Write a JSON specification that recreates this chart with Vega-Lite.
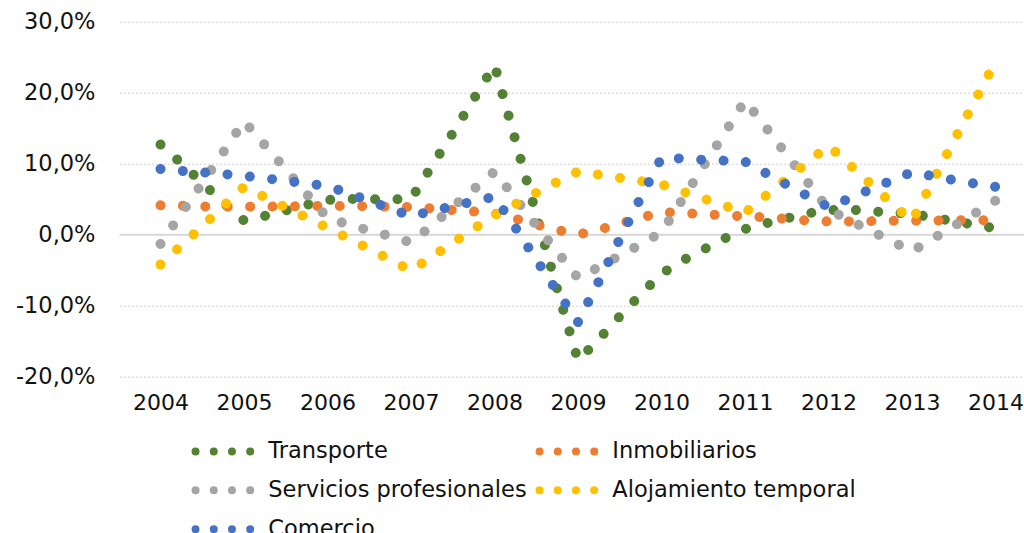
{
  "$schema": "https://vega.github.io/schema/vega-lite/v6.json",
  "width": 904.5,
  "height": 355,
  "autosize": {"type": "none"},
  "padding": {"left": 119.5, "top": 21.7, "right": 0, "bottom": 156.3},
  "background": "#ffffff",
  "config": {
    "view": {"stroke": null},
    "font": "DejaVu Sans",
    "locale": {"number": {"decimal": ",", "thousands": ".", "grouping": [3], "currency": ["", " €"], "minus": "-"}}
  },
  "datasets": {
    "series": [
      {"periodo":2004,"sector":"Transporte","tasa":12.7},{"periodo":2004.25,"sector":"Transporte","tasa":10.05},{"periodo":2004.5,"sector":"Transporte","tasa":7.3},{"periodo":2004.75,"sector":"Transporte","tasa":4.55},
      {"periodo":2005,"sector":"Transporte","tasa":2.0},{"periodo":2005.25,"sector":"Transporte","tasa":2.65},{"periodo":2005.5,"sector":"Transporte","tasa":3.42},{"periodo":2005.75,"sector":"Transporte","tasa":4.2},
      {"periodo":2006,"sector":"Transporte","tasa":4.9},{"periodo":2006.25,"sector":"Transporte","tasa":5.03},{"periodo":2006.5,"sector":"Transporte","tasa":5.0},{"periodo":2006.75,"sector":"Transporte","tasa":5.0},
      {"periodo":2007,"sector":"Transporte","tasa":5.0},{"periodo":2007.25,"sector":"Transporte","tasa":9.7},{"periodo":2007.5,"sector":"Transporte","tasa":14.3},{"periodo":2007.75,"sector":"Transporte","tasa":19.1},
      {"periodo":2008,"sector":"Transporte","tasa":23.9},{"periodo":2008.25,"sector":"Transporte","tasa":13.3},{"periodo":2008.5,"sector":"Transporte","tasa":2.85},{"periodo":2008.75,"sector":"Transporte","tasa":-7.65},
      {"periodo":2009,"sector":"Transporte","tasa":-17.7},{"periodo":2009.25,"sector":"Transporte","tasa":-14.7},{"periodo":2009.5,"sector":"Transporte","tasa":-11.5},{"periodo":2009.75,"sector":"Transporte","tasa":-8.4},
      {"periodo":2010,"sector":"Transporte","tasa":-5.5},{"periodo":2010.25,"sector":"Transporte","tasa":-3.65},{"periodo":2010.5,"sector":"Transporte","tasa":-2.1},{"periodo":2010.75,"sector":"Transporte","tasa":-0.55},
      {"periodo":2011,"sector":"Transporte","tasa":0.8},{"periodo":2011.25,"sector":"Transporte","tasa":1.6},{"periodo":2011.5,"sector":"Transporte","tasa":2.3},{"periodo":2011.75,"sector":"Transporte","tasa":3.0},
      {"periodo":2012,"sector":"Transporte","tasa":3.45},{"periodo":2012.25,"sector":"Transporte","tasa":3.55},{"periodo":2012.5,"sector":"Transporte","tasa":3.3},{"periodo":2012.75,"sector":"Transporte","tasa":3.12},
      {"periodo":2013,"sector":"Transporte","tasa":2.95},{"periodo":2013.25,"sector":"Transporte","tasa":2.4},{"periodo":2013.5,"sector":"Transporte","tasa":1.9},{"periodo":2013.75,"sector":"Transporte","tasa":1.4},
      {"periodo":2014,"sector":"Transporte","tasa":0.9},

      {"periodo":2004,"sector":"Inmobiliarios","tasa":4.14},{"periodo":2004.25,"sector":"Inmobiliarios","tasa":4.1},{"periodo":2004.5,"sector":"Inmobiliarios","tasa":3.97},{"periodo":2004.75,"sector":"Inmobiliarios","tasa":3.95},
      {"periodo":2005,"sector":"Inmobiliarios","tasa":3.95},{"periodo":2005.25,"sector":"Inmobiliarios","tasa":3.95},{"periodo":2005.5,"sector":"Inmobiliarios","tasa":3.97},{"periodo":2005.75,"sector":"Inmobiliarios","tasa":4.03},
      {"periodo":2006,"sector":"Inmobiliarios","tasa":4.04},{"periodo":2006.25,"sector":"Inmobiliarios","tasa":4.04},{"periodo":2006.5,"sector":"Inmobiliarios","tasa":4.0},{"periodo":2006.75,"sector":"Inmobiliarios","tasa":3.95},
      {"periodo":2007,"sector":"Inmobiliarios","tasa":3.9},{"periodo":2007.25,"sector":"Inmobiliarios","tasa":3.7},{"periodo":2007.5,"sector":"Inmobiliarios","tasa":3.47},{"periodo":2007.75,"sector":"Inmobiliarios","tasa":3.27},
      {"periodo":2008,"sector":"Inmobiliarios","tasa":3.0},{"periodo":2008.25,"sector":"Inmobiliarios","tasa":2.25},{"periodo":2008.5,"sector":"Inmobiliarios","tasa":1.42},{"periodo":2008.75,"sector":"Inmobiliarios","tasa":0.68},
      {"periodo":2009,"sector":"Inmobiliarios","tasa":0.0},{"periodo":2009.25,"sector":"Inmobiliarios","tasa":0.7},{"periodo":2009.5,"sector":"Inmobiliarios","tasa":1.55},{"periodo":2009.75,"sector":"Inmobiliarios","tasa":2.37},
      {"periodo":2010,"sector":"Inmobiliarios","tasa":3.2},{"periodo":2010.25,"sector":"Inmobiliarios","tasa":3.06},{"periodo":2010.5,"sector":"Inmobiliarios","tasa":2.88},{"periodo":2010.75,"sector":"Inmobiliarios","tasa":2.73},
      {"periodo":2011,"sector":"Inmobiliarios","tasa":2.6},{"periodo":2011.25,"sector":"Inmobiliarios","tasa":2.45},{"periodo":2011.5,"sector":"Inmobiliarios","tasa":2.22},{"periodo":2011.75,"sector":"Inmobiliarios","tasa":2.0},
      {"periodo":2012,"sector":"Inmobiliarios","tasa":1.87},{"periodo":2012.25,"sector":"Inmobiliarios","tasa":1.86},{"periodo":2012.5,"sector":"Inmobiliarios","tasa":1.91},{"periodo":2012.75,"sector":"Inmobiliarios","tasa":1.95},
      {"periodo":2013,"sector":"Inmobiliarios","tasa":1.97},{"periodo":2013.25,"sector":"Inmobiliarios","tasa":1.98},{"periodo":2013.5,"sector":"Inmobiliarios","tasa":2.02},{"periodo":2013.75,"sector":"Inmobiliarios","tasa":2.03},
      {"periodo":2014,"sector":"Inmobiliarios","tasa":2.05},

      {"periodo":2004,"sector":"Servicios profesionales","tasa":-1.3},{"periodo":2004.25,"sector":"Servicios profesionales","tasa":3.0},{"periodo":2004.5,"sector":"Servicios profesionales","tasa":7.25},{"periodo":2004.75,"sector":"Servicios profesionales","tasa":11.6},
      {"periodo":2005,"sector":"Servicios profesionales","tasa":16.0},{"periodo":2005.25,"sector":"Servicios profesionales","tasa":12.6},{"periodo":2005.5,"sector":"Servicios profesionales","tasa":9.2},{"periodo":2005.75,"sector":"Servicios profesionales","tasa":5.75},
      {"periodo":2006,"sector":"Servicios profesionales","tasa":2.35},{"periodo":2006.25,"sector":"Servicios profesionales","tasa":1.45},{"periodo":2006.5,"sector":"Servicios profesionales","tasa":0.6},{"periodo":2006.75,"sector":"Servicios profesionales","tasa":-0.2},
      {"periodo":2007,"sector":"Servicios profesionales","tasa":-1.1},{"periodo":2007.25,"sector":"Servicios profesionales","tasa":1.3},{"periodo":2007.5,"sector":"Servicios profesionales","tasa":3.9},{"periodo":2007.75,"sector":"Servicios profesionales","tasa":6.4},
      {"periodo":2008,"sector":"Servicios profesionales","tasa":8.9},{"periodo":2008.25,"sector":"Servicios profesionales","tasa":5.1},{"periodo":2008.5,"sector":"Servicios profesionales","tasa":1.3},{"periodo":2008.75,"sector":"Servicios profesionales","tasa":-2.4},
      {"periodo":2009,"sector":"Servicios profesionales","tasa":-6.1},{"periodo":2009.25,"sector":"Servicios profesionales","tasa":-4.55},{"periodo":2009.5,"sector":"Servicios profesionales","tasa":-2.95},{"periodo":2009.75,"sector":"Servicios profesionales","tasa":-1.35},
      {"periodo":2010,"sector":"Servicios profesionales","tasa":0.33},{"periodo":2010.25,"sector":"Servicios profesionales","tasa":4.97},{"periodo":2010.5,"sector":"Servicios profesionales","tasa":9.6},{"periodo":2010.75,"sector":"Servicios profesionales","tasa":14.2},
      {"periodo":2011,"sector":"Servicios profesionales","tasa":18.9},{"periodo":2011.25,"sector":"Servicios profesionales","tasa":15.1},{"periodo":2011.5,"sector":"Servicios profesionales","tasa":11.25},{"periodo":2011.75,"sector":"Servicios profesionales","tasa":7.4},
      {"periodo":2012,"sector":"Servicios profesionales","tasa":3.55},{"periodo":2012.25,"sector":"Servicios profesionales","tasa":2.05},{"periodo":2012.5,"sector":"Servicios profesionales","tasa":0.57},{"periodo":2012.75,"sector":"Servicios profesionales","tasa":-0.87},
      {"periodo":2013,"sector":"Servicios profesionales","tasa":-2.35},{"periodo":2013.25,"sector":"Servicios profesionales","tasa":-0.55},{"periodo":2013.5,"sector":"Servicios profesionales","tasa":1.2},{"periodo":2013.75,"sector":"Servicios profesionales","tasa":3.0},
      {"periodo":2014,"sector":"Servicios profesionales","tasa":4.8},

      {"periodo":2004,"sector":"Alojamiento temporal","tasa":-4.2},{"periodo":2004.25,"sector":"Alojamiento temporal","tasa":-1.5},{"periodo":2004.5,"sector":"Alojamiento temporal","tasa":1.15},{"periodo":2004.75,"sector":"Alojamiento temporal","tasa":4.0},
      {"periodo":2005,"sector":"Alojamiento temporal","tasa":6.75},{"periodo":2005.25,"sector":"Alojamiento temporal","tasa":5.3},{"periodo":2005.5,"sector":"Alojamiento temporal","tasa":3.85},{"periodo":2005.75,"sector":"Alojamiento temporal","tasa":2.42},
      {"periodo":2006,"sector":"Alojamiento temporal","tasa":0.98},{"periodo":2006.25,"sector":"Alojamiento temporal","tasa":-0.52},{"periodo":2006.5,"sector":"Alojamiento temporal","tasa":-2.0},{"periodo":2006.75,"sector":"Alojamiento temporal","tasa":-3.5},
      {"periodo":2007,"sector":"Alojamiento temporal","tasa":-5.05},{"periodo":2007.25,"sector":"Alojamiento temporal","tasa":-3.1},{"periodo":2007.5,"sector":"Alojamiento temporal","tasa":-1.15},{"periodo":2007.75,"sector":"Alojamiento temporal","tasa":0.83},
      {"periodo":2008,"sector":"Alojamiento temporal","tasa":2.75},{"periodo":2008.25,"sector":"Alojamiento temporal","tasa":4.3},{"periodo":2008.5,"sector":"Alojamiento temporal","tasa":5.9},{"periodo":2008.75,"sector":"Alojamiento temporal","tasa":7.45},
      {"periodo":2009,"sector":"Alojamiento temporal","tasa":8.9},{"periodo":2009.25,"sector":"Alojamiento temporal","tasa":8.45},{"periodo":2009.5,"sector":"Alojamiento temporal","tasa":8.0},{"periodo":2009.75,"sector":"Alojamiento temporal","tasa":7.55},
      {"periodo":2010,"sector":"Alojamiento temporal","tasa":7.1},{"periodo":2010.25,"sector":"Alojamiento temporal","tasa":6.1},{"periodo":2010.5,"sector":"Alojamiento temporal","tasa":5.1},{"periodo":2010.75,"sector":"Alojamiento temporal","tasa":4.1},
      {"periodo":2011,"sector":"Alojamiento temporal","tasa":3.1},{"periodo":2011.25,"sector":"Alojamiento temporal","tasa":5.5},{"periodo":2011.5,"sector":"Alojamiento temporal","tasa":7.85},{"periodo":2011.75,"sector":"Alojamiento temporal","tasa":10.2},
      {"periodo":2012,"sector":"Alojamiento temporal","tasa":12.55},{"periodo":2012.25,"sector":"Alojamiento temporal","tasa":9.87},{"periodo":2012.5,"sector":"Alojamiento temporal","tasa":7.2},{"periodo":2012.75,"sector":"Alojamiento temporal","tasa":4.5},
      {"periodo":2013,"sector":"Alojamiento temporal","tasa":1.9},{"periodo":2013.25,"sector":"Alojamiento temporal","tasa":7.6},{"periodo":2013.5,"sector":"Alojamiento temporal","tasa":13.2},{"periodo":2013.75,"sector":"Alojamiento temporal","tasa":18.8},
      {"periodo":2014,"sector":"Alojamiento temporal","tasa":24.4},

      {"periodo":2004,"sector":"Comercio","tasa":9.25},{"periodo":2004.25,"sector":"Comercio","tasa":9.0},{"periodo":2004.5,"sector":"Comercio","tasa":8.8},{"periodo":2004.75,"sector":"Comercio","tasa":8.55},
      {"periodo":2005,"sector":"Comercio","tasa":8.28},{"periodo":2005.25,"sector":"Comercio","tasa":7.95},{"periodo":2005.5,"sector":"Comercio","tasa":7.58},{"periodo":2005.75,"sector":"Comercio","tasa":7.22},
      {"periodo":2006,"sector":"Comercio","tasa":6.85},{"periodo":2006.25,"sector":"Comercio","tasa":5.83},{"periodo":2006.5,"sector":"Comercio","tasa":4.76},{"periodo":2006.75,"sector":"Comercio","tasa":3.72},
      {"periodo":2007,"sector":"Comercio","tasa":2.6},{"periodo":2007.25,"sector":"Comercio","tasa":3.33},{"periodo":2007.5,"sector":"Comercio","tasa":4.02},{"periodo":2007.75,"sector":"Comercio","tasa":4.69},
      {"periodo":2008,"sector":"Comercio","tasa":5.35},{"periodo":2008.25,"sector":"Comercio","tasa":1.0},{"periodo":2008.5,"sector":"Comercio","tasa":-3.5},{"periodo":2008.75,"sector":"Comercio","tasa":-8.0},
      {"periodo":2009,"sector":"Comercio","tasa":-12.3},{"periodo":2009.25,"sector":"Comercio","tasa":-6.55},{"periodo":2009.5,"sector":"Comercio","tasa":-0.6},{"periodo":2009.75,"sector":"Comercio","tasa":5.2},
      {"periodo":2010,"sector":"Comercio","tasa":10.85},{"periodo":2010.25,"sector":"Comercio","tasa":10.72},{"periodo":2010.5,"sector":"Comercio","tasa":10.55},{"periodo":2010.75,"sector":"Comercio","tasa":10.43},
      {"periodo":2011,"sector":"Comercio","tasa":10.3},{"periodo":2011.25,"sector":"Comercio","tasa":8.67},{"periodo":2011.5,"sector":"Comercio","tasa":7.05},{"periodo":2011.75,"sector":"Comercio","tasa":5.45},
      {"periodo":2012,"sector":"Comercio","tasa":3.9},{"periodo":2012.25,"sector":"Comercio","tasa":5.1},{"periodo":2012.5,"sector":"Comercio","tasa":6.38},{"periodo":2012.75,"sector":"Comercio","tasa":7.6},
      {"periodo":2013,"sector":"Comercio","tasa":8.8},{"periodo":2013.25,"sector":"Comercio","tasa":8.25},{"periodo":2013.5,"sector":"Comercio","tasa":7.7},{"periodo":2013.75,"sector":"Comercio","tasa":7.2},
      {"periodo":2014,"sector":"Comercio","tasa":6.75}
    ]
  },
  "layer": [
    {
      "data": {"values": [{"cero": 0}]},
      "mark": {"type": "rule", "color": "#d9d9d9", "strokeWidth": 2},
      "encoding": {
        "y": {"field": "cero", "type": "quantitative", "scale": {"domain": [-20, 30], "nice": false, "zero": false}}
      }
    },
    {
      "data": {"name": "series"},
      "mark": {"type": "line", "strokeWidth": 10, "strokeCap": "round", "strokeJoin": "round", "strokeDash": [0.01, 22.4], "interpolate": "linear"},
      "encoding": {
        "x": {
          "field": "periodo", "type": "quantitative",
          "scale": {"domain": [2003.509, 2014.341], "nice": false, "zero": false},
          "axis": {
            "title": null, "values": [2004,2005,2006,2007,2008,2009,2010,2011,2012,2013,2014],
            "format": "d", "grid": false, "domain": false, "ticks": false, "tickSize": 0,
            "labelPadding": 16, "labelFontSize": 22, "labelFont": "DejaVu Sans", "labelColor": "#111111",
            "labelFlush": false, "labelOverlap": false
          }
        },
        "y": {
          "field": "tasa", "type": "quantitative",
          "scale": {"domain": [-20, 30], "nice": false, "zero": false},
          "axis": {
            "title": null, "values": [-20,-15,-10,-5,0,5,10,15,20,25,30],
            "format": ".1f", "labelExpr": "datum.label + '%'",
            "grid": true, "gridColor": "#d0d0d0", "gridDash": [2, 2], "gridWidth": 1,
            "domain": false, "ticks": false, "tickSize": 0,
            "labelPadding": 24.5, "labelFontSize": 22.5, "labelFont": "DejaVu Sans", "labelColor": "#111111",
            "labelOverlap": false
          }
        },
        "color": {
          "field": "sector", "type": "nominal",
          "scale": {
            "domain": ["Transporte", "Inmobiliarios", "Servicios profesionales", "Alojamiento temporal", "Comercio"],
            "range": ["#548235", "#ED7D31", "#A5A5A5", "#FFC000", "#4472C4"]
          },
          "legend": {
            "title": null, "orient": "none", "legendX": 81.3, "legendY": 407, "direction": "horizontal",
            "columns": 2, "padding": 0, "columnPadding": -4, "rowPadding": 0,
            "symbolType": "M-1.5,0H1.5", "symbolSize": 1369, "symbolStrokeWidth": 8, "symbolDash": [0.01, 18.2],
            "labelFontSize": 22.5, "labelFont": "DejaVu Sans", "labelColor": "#111111", "labelOffset": 22.5,
            "labelLimit": 400,
            "encode": {"symbols": {"update": {"strokeCap": {"value": "round"}, "fill": {"value": "transparent"}}}}
          }
        }
      }
    }
  ]
}
